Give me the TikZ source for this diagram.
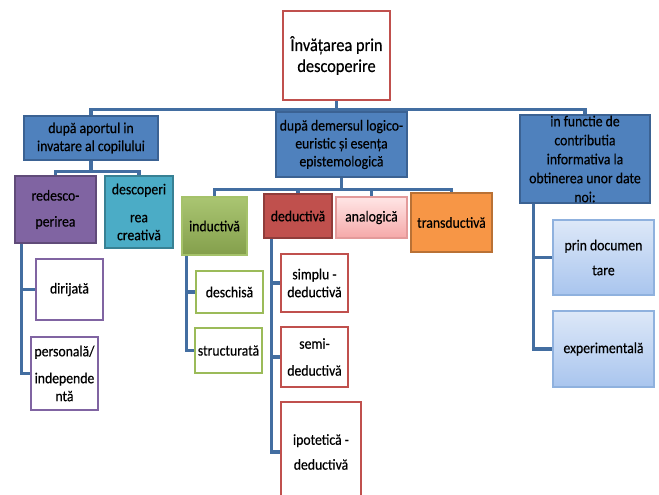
\documentclass[tikz,border=0pt]{standalone}
\usepackage{fontspec}
\setmainfont{Carlito}[FakeStretch=0.9, FakeBold=0.4]
\usetikzlibrary{shadows,backgrounds}
\definecolor{blu}{HTML}{4F81BD}
\definecolor{bluedge}{HTML}{3B6293}
\definecolor{purp}{HTML}{8064A2}
\definecolor{tealbox}{HTML}{4BACC6}
\definecolor{grn}{HTML}{9BBB59}
\definecolor{rd}{HTML}{C0504D}
\definecolor{orng}{HTML}{F79646}
\definecolor{pinktop}{HTML}{FFE6E6}
\definecolor{pinkbot}{HTML}{F5A8A8}
\definecolor{pinkedge}{HTML}{E39A9A}
\definecolor{ltbtop}{HTML}{DDE8F8}
\definecolor{ltbbot}{HTML}{A9C5EE}
\definecolor{ltbedge}{HTML}{8FB1DE}
\tikzset{
    box/.style={draw, line width=2.1pt, inner sep=0pt, align=center,
        font=\fontsize{13}{15.3}\selectfont,
        drop shadow={shadow xshift=1.2pt, shadow yshift=-1.2pt, opacity=0.25}},
    sz/.style 2 args={minimum width=#1*0.03cm, minimum height=#2*0.03cm},
    bluebox/.style={box, fill=blu, draw=bluedge},
    ltbox/.style={box, top color=ltbtop, bottom color=ltbbot, draw=ltbedge, line width=1.4pt},
    conn/.style={draw=blu!85!black, line width=2.8pt}
}
\begin{document}
\begin{tikzpicture}[x=0.03cm, y=-0.03cm]
    \useasboundingbox (0,0) rectangle (659,495);
    % root
    \node[box, sz={107}{89}, fill=white, draw=rd, font=\fontsize{15.5}{17.9}\selectfont] (root) at (336.5,55.5) {Învățarea prin\\descoperire};
    % first level
    \node[bluebox, sz={134}{44}] (aport) at (91,138) {după aportul in\\invatare al copilului};
    \node[bluebox, sz={131}{65}] (demers) at (341.5,144.5) {după demersul logico-\\euristic și esența\\epistemologică};
    \node[bluebox, sz={130}{88}, font=\fontsize{13}{16.2}\selectfont] (functie) at (585,159) {in functie de\\contributia\\informativa la\\obtinerea unor date\\noi:};
    % second level
    \node[box, sz={81}{67}, fill=purp, draw=purp!75!black] (redescop) at (55.5,209.5) {redesco-\\[0.24cm]perirea};
    \node[box, sz={68}{72}, fill=tealbox, draw=tealbox!75!black] (creativa) at (139,212) {descoperi\\[0.3cm]rea\\creativă};
    \node[box, sz={65}{58}, top color=grn!85!white, bottom color=grn!85!black, draw=grn!90!white] (inductiva) at (214.5,226) {inductivă};
    \node[box, sz={68}{44}, fill=rd, draw=rd!75!black] (deductiva) at (298,216) {deductivă};
    \node[box, sz={71}{41}, top color=pinktop, bottom color=pinkbot, draw=pinkedge] (analogica) at (371.5,217.5) {analogică};
    \node[box, sz={81}{59}, fill=orng, draw=orng!75!black] (transductiva) at (451.5,222.5) {transductivă};
    % third level
    \node[box, sz={67}{61}, fill=white, draw=purp] (dirijata) at (69.5,289.5) {dirijată};
    \node[box, sz={67}{73}, fill=white, draw=purp] (personala) at (64.5,373.5) {personală/\\[0.27cm]independe\\ntă};
    \node[box, sz={67}{42}, fill=white, draw=grn] (deschisa) at (229.5,292) {deschisă};
    \node[box, sz={67}{45}, fill=white, draw=grn] (structurata) at (228.5,350.5) {structurată};
    \node[box, sz={67}{58}, fill=white, draw=rd] (simplu) at (314.5,283) {simplu -\\deductivă};
    \node[box, sz={67}{60}, fill=white, draw=rd] (semi) at (314.5,357) {semi-\\[0.27cm]deductivă};
    \node[box, sz={80}{100}, fill=white, draw=rd] (ipotetica) at (321,452) {ipotetică -\\[0.21cm]deductivă};
    \node[ltbox, sz={101}{75}] (documentare) at (603.5,257.5) {prin documen\\[0.21cm]tare};
    \node[ltbox, sz={101}{76}] (experimentala) at (603.5,349) {experimentală};
    % connectors
    \begin{scope}[on background layer]
        \foreach \c in {aport, demers, functie} {
            \draw[conn] (root.south) -- ++(0,8) -| (\c.north);
        }
        \foreach \c in {redescop, creativa} {
            \draw[conn] (aport.south) -- ++(0,10) -| (\c.north);
        }
        \foreach \c in {inductiva, deductiva, analogica, transductiva} {
            \draw[conn] (demers.south) -- ++(0,11) -| (\c.north);
        }
        \foreach \c in {dirijata, personala} {
            \draw[conn] ([xshift=0.24cm]redescop.south west) |- (\c.west);
        }
        \foreach \c in {deschisa, structurata} {
            \draw[conn] ([xshift=0.18cm]inductiva.south west) |- (\c.west);
        }
        \foreach \c in {simplu, semi, ipotetica} {
            \draw[conn] ([xshift=0.27cm]deductiva.south west) |- (\c.west);
        }
        \foreach \c in {documentare, experimentala} {
            \draw[conn] ([xshift=0.45cm]functie.south west) |- (\c.west);
        }
    \end{scope}
\end{tikzpicture}
\end{document}
